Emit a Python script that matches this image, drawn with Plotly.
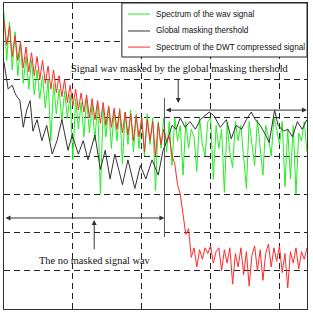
import plotly.graph_objects as go

# ---- data (x: frequency bin, y: level in dB) ----
x_fine = list(range(0, 441, 4))

wav_signal = [
    -5, -30, -10, -35, -15, -38, -22, -42, -28, -45,
    -30, -48, -35, -50, -38, -55, -40, -72, -42, -58,
    -45, -62, -46, -60, -48, -82, -50, -66, -52, -70,
    -50, -68, -53, -72, -52, -100, -55, -70, -54, -76,
    -56, -72, -55, -84, -57, -74, -56, -78, -58, -76,
    -60, -80, -58, -74, -60, -98, -62, -76, -60, -78,
    -62, -85, -60, -72, -64, -90, -62, -76, -66, -70,
    -88, -60, -74, -80, -62, -60, -92, -64, -76, -66,
    -99, -63, -78, -86, -62, -72, -64, -80, -97, -62,
    -74, -85, -61, -76, -90, -64, -70, -80, -60, -66,
    -74, -62, -96, -66, -92, -64, -100, -68, -72, -62,
    -78,
]

dwt_signal = [
    -9, -22, -12, -28, -17, -30, -20, -34, -23, -36,
    -26, -38, -28, -40, -30, -42, -33, -45, -35, -47,
    -38, -49, -40, -52, -43, -54, -45, -56, -47, -57,
    -48, -60, -50, -61, -51, -63, -52, -64, -54, -65,
    -55, -66, -56, -68, -57, -69, -58, -72, -59, -70,
    -60, -78, -61, -72, -62, -80, -63, -74, -66, -72,
    -70, -80, -84, -95, -100, -112, -121, -118, -133, -128,
    -138, -129, -134, -128, -131, -127, -136, -130, -128, -140,
    -129, -136, -128, -147, -131, -138, -128, -142, -130, -148,
    -132, -127, -140, -129, -145, -131, -126, -138, -128, -135,
    -127, -141, -131, -149, -130, -136, -128, -139, -130, -134,
    -128,
]

x_mask = [
    0, 6, 12, 17, 23, 28, 33, 38, 42, 48, 55, 62, 70, 77, 84, 93,
    99, 108, 115, 122, 132, 140, 147, 154, 161, 172, 180, 190, 198, 206,
    215, 224, 231, 238, 244, 250, 256, 263, 270, 278, 285, 292, 298, 305,
    314, 323, 330, 337, 345, 352, 359, 365, 372, 380, 385, 393, 398, 406,
    412, 419, 426, 433, 440,
]
mask_threshold = [
    -31, -45, -43, -48, -51, -65, -56, -51, -67, -61, -72, -64, -79, -72,
    -61, -77, -69, -79, -72, -82, -69, -87, -77, -92, -79, -95, -82, -97,
    -85, -92, -82, -90, -77, -71, -64, -66, -60, -65, -62, -66, -61, -59,
    -57, -59, -65, -61, -71, -64, -66, -61, -57, -61, -64, -69, -73, -56,
    -64, -67, -66, -70, -62, -66, -61,
]

names = ["Spectrum of the wav signal", "Global masking thershold",
         "Spectrum of the DWT compressed signal"]
colors = ["#22ee22", "#333333", "#ff2a2a"]

fig = go.Figure()
fig.add_trace(go.Scatter(x=x_fine, y=wav_signal, mode="lines", name=names[0],
                         line=dict(color=colors[0], width=1), showlegend=False))
fig.add_trace(go.Scatter(x=x_mask, y=mask_threshold, mode="lines", name=names[1],
                         line=dict(color=colors[1], width=1), showlegend=False))
fig.add_trace(go.Scatter(x=x_fine, y=dwt_signal, mode="lines", name=names[2],
                         line=dict(color=colors[2], width=1), showlegend=False))

serif = "Liberation Serif, Times New Roman, serif"
sans = "Liberation Sans, Arial, sans-serif"
arrow_common = dict(xref="x", yref="y", axref="x", ayref="y", showarrow=True,
                    arrowcolor="#333333", arrowwidth=1, arrowsize=1, text="")

shapes = [
    # boundary line between the two regions
    dict(type="line", x0=233, x1=233, y0=-49.7, y1=-122.4, xref="x", yref="y",
         line=dict(color="#555555", width=1)),
    # legend box
    dict(type="rect", x0=0.389, x1=1.0, y0=0.8235, y1=1.0, xref="paper", yref="paper",
         line=dict(color="#222222", width=1), fillcolor="white", layer="above"),
]

annotations = [
    dict(x=440, y=-56, ax=233, ay=-56, arrowhead=2, arrowside="end+start",
         startarrowhead=2, **arrow_common),
    dict(x=253, y=-52.3, ax=253, ay=-39.5, arrowhead=2, **arrow_common),
    dict(x=233, y=-112.4, ax=0, ay=-112.4, arrowhead=2, arrowside="end+start",
         startarrowhead=2, **arrow_common),
    dict(x=131, y=-113.5, ax=131, ay=-129.5, arrowhead=2, **arrow_common),
    dict(x=256, y=-34.5, xref="x", yref="y", showarrow=False,
         text="Signal wav masked by the global masking thershold",
         font=dict(family=serif, size=10.4, color="#111111")),
    dict(x=132, y=-134.5, xref="x", yref="y", showarrow=False,
         text="The no masked signal wav",
         font=dict(family=serif, size=10.4, color="#111111")),
]

legend_rows = [0.964, 0.9085, 0.856]
for name, col, yr in zip(names, colors, legend_rows):
    shapes.append(dict(type="line", x0=0.409, x1=0.482, y0=yr, y1=yr,
                       xref="paper", yref="paper", layer="above",
                       line=dict(color=col, width=1)))
    annotations.append(dict(x=0.494, y=yr, xref="paper", yref="paper",
                            xanchor="left", yanchor="middle", showarrow=False,
                            text=name, font=dict(family=sans, size=8.2, color="#111111")))

fig.update_layout(annotations=annotations, shapes=shapes)

axis_common = dict(showgrid=True, gridcolor="#222222", gridwidth=1, griddash="6px,4px",
                   zeroline=False, showline=True, linecolor="#333333", linewidth=1,
                   mirror=True, ticks="", showticklabels=False)
fig.update_xaxes(range=[0, 440], dtick=100, tick0=0, **axis_common)
fig.update_yaxes(range=[-160, 0], dtick=20, tick0=0, **axis_common)

fig.update_layout(
    width=313, height=312,
    margin=dict(l=4, r=6, t=3, b=3),
    paper_bgcolor="white", plot_bgcolor="white",
    showlegend=False,
)

fig.write_html("out.html")
